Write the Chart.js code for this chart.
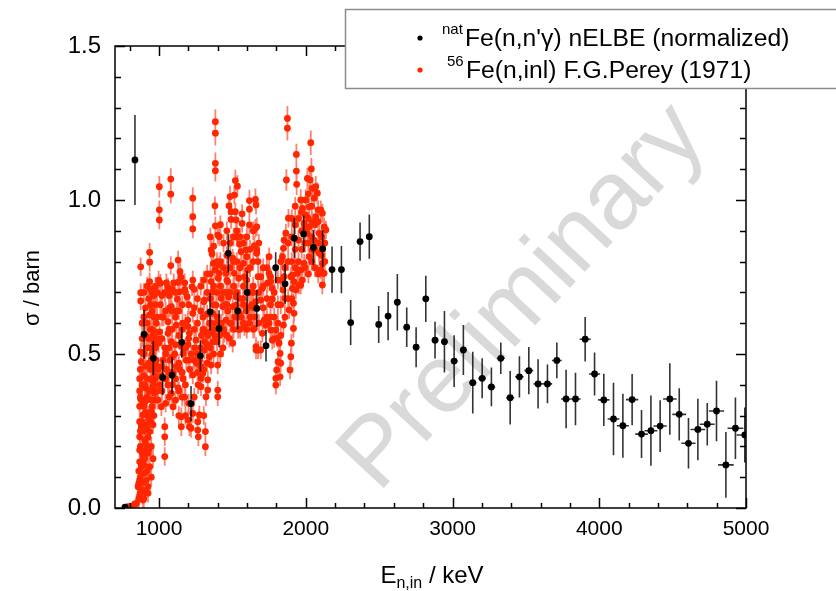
<!DOCTYPE html>
<html><head><meta charset="utf-8">
<script src="https://cdn.jsdelivr.net/npm/chart.js@4.4.1/dist/chart.umd.min.js"></script>
<style>html,body{margin:0;padding:0;background:#fff}</style>
</head><body>
<canvas id="c" width="836" height="591" style="width:836px;height:591px;display:block"></canvas>
<script>
// ---- nELBE (normalized) natFe(n,n'γ) ----
const elbeE = [768,836,898,961,1025,1089,1155,1218,1282,1348,1409,1472,1536,1600,1666,1729,1795,1859,1922,1986,2052,2115,2179,2243,2306,2370,2433,2497,2561,2624,2688,2752,2818,2881,2945,3011,3074,3138,3202,3265,3329,3393,3456,3520,3583,3647,3711,3774,3838,3904,3968,4031,4097,4161,4224,4288,4352,4415,4481,4545,4608,4672,4736,4799,4863,4928,4992];
const elbeSigma = [0.003,1.130,0.564,0.486,0.424,0.431,0.538,0.339,0.494,0.637,0.582,0.827,0.640,0.700,0.648,0.527,0.780,0.728,0.876,0.890,0.846,0.842,0.774,0.774,0.602,0.865,0.881,0.596,0.623,0.668,0.587,0.522,0.679,0.545,0.540,0.477,0.513,0.407,0.421,0.393,0.486,0.358,0.426,0.446,0.403,0.403,0.479,0.354,0.354,0.548,0.435,0.351,0.289,0.267,0.352,0.240,0.251,0.266,0.354,0.304,0.210,0.255,0.272,0.315,0.140,0.259,0.237];
const elbeErr = [0.005,0.146,0.080,0.055,0.057,0.060,0.050,0.057,0.050,0.060,0.060,0.062,0.060,0.070,0.060,0.051,0.050,0.065,0.065,0.060,0.057,0.060,0.075,0.077,0.073,0.062,0.072,0.060,0.078,0.092,0.064,0.065,0.075,0.060,0.100,0.084,0.081,0.100,0.065,0.063,0.051,0.087,0.067,0.077,0.080,0.063,0.058,0.095,0.085,0.072,0.070,0.085,0.118,0.104,0.083,0.078,0.114,0.084,0.116,0.085,0.082,0.100,0.069,0.098,0.107,0.100,0.089];
const elbeEErr = [4,5,6,6,7,7,8,8,8,9,9,10,10,11,11,12,12,13,13,14,14,15,15,16,16,17,17,18,18,19,20,20,21,22,22,23,24,25,25,26,27,28,29,30,31,32,33,34,35,38,38,39,40,41,42,43,44,45,46,47,48,50,51,52,53,54,56];

// ---- F.G. Perey (1971) 56Fe(n,inl): individually read points ----
const pereyE = [875,936,936,936,1002,1002,1002,1080,1080,1080,875,875,997,1010,1050,1061,1065,1100,1130,1130,1143,1150,1140,1175,1175,1125,1192,1072,
1384,1384,1384,1384,1230,1230,1230,1381,1520,1534,1484,1513,1477,1616,1657,1661,1491,1520,1566,1616,1491,1566,1616,1657,1525,1384,1400,1411,1355,1361,1532,1548,1559,1593,1598,1575,1650,1666,1502,1411,1411,1370,1381,1404,1457,1468,1513,1543,1582,1604,1309,1230,1225,1355,1366,1423,1475,1525,1502,
1875,1875,2034,1936,1936,2038,1868,1938,2011,2029,2045,2068,2079,1966,2000,2057,1977,2023,2084,2102,2000,2068,2045,2113,2125,2137,1882,1864,1852,1848,1841,1909,1943,1966,1977,1920,1932,1989,2023,2045,2091,2125,2113,2102,2091,2057,2011,1989,2023,1666,1666,1675,1693,1675,1750,1750,1739,1761,1772,1772,1704,1693,1852,1845,1898,1909,1954,1966,2113,2118,
1659,1716,1727,1750,1761,1704,1693,1675,1772,1796,1807,1818,1825,1811,1802,1796,1796,1825,1829,1848,1886,1898,1893,1916,1902,1916,1920,
936,879,875,875,1004,997,1084,1061,1061,1118,1152,1164,1198,948,959,970,948,993,1016,1084,1095,1039,1039,1039,1152,1152,1198,948,891,879,868,902,936,868,891,925,879,902,868,891,925,936,925,868,857,891,845,811,788,834,
1207,1218,1264,1264,1268,1316,1316,1275,1230,1320,1332,1286,1332,1298,1230,1400,1400,1400,1355,1343,1309,1252,1207,1196,1230,1298,1355,1366,1434,1479,1502,1582,1650,1661,1661,1525,1548,1457,1389,1445,1286];
const pereySigma = [0.783,0.830,0.798,0.735,1.043,0.968,0.935,1.068,1.019,0.787,0.699,0.672,0.740,0.730,0.731,0.717,0.708,0.731,0.805,0.733,0.767,0.749,0.702,0.731,0.710,0.678,0.686,0.650,
1.254,1.217,1.119,1.095,1.006,0.946,0.906,0.981,1.063,1.045,1.011,1.016,0.981,0.998,1.002,0.984,0.962,0.962,0.955,0.970,0.937,0.924,0.919,0.908,0.935,0.916,0.886,0.881,0.838,0.825,0.879,0.857,0.832,0.838,0.816,0.794,0.852,0.838,0.811,0.789,0.762,0.794,0.773,0.746,0.762,0.735,0.762,0.746,0.751,0.773,0.675,0.740,0.718,0.735,0.702,0.681,0.686,0.686,0.654,
1.265,1.233,1.186,1.148,1.094,1.101,1.065,1.051,1.070,1.065,1.038,1.043,1.022,1.000,1.000,1.006,0.973,0.978,0.968,0.968,0.951,0.946,0.930,0.957,0.913,0.903,0.941,0.892,0.870,0.843,0.816,0.756,0.762,0.773,0.740,0.735,0.708,0.794,0.816,0.838,0.827,0.762,0.724,0.773,0.892,0.870,0.892,0.924,0.913,0.913,0.827,0.800,0.751,0.751,0.816,0.762,0.730,0.735,0.713,0.678,0.713,0.675,0.751,0.708,0.751,0.713,0.724,0.724,0.794,0.762,
0.670,0.610,0.594,0.600,0.578,0.567,0.513,0.513,0.545,0.578,0.551,0.535,0.502,0.475,0.448,0.421,0.399,0.426,0.470,0.594,0.643,0.491,0.448,0.583,0.535,0.665,0.632,
0.627,0.475,0.507,0.353,0.572,0.535,0.654,0.605,0.567,0.594,0.524,0.502,0.589,0.416,0.394,0.372,0.351,0.351,0.329,0.372,0.329,0.264,0.231,0.167,0.296,0.264,0.286,0.313,0.302,0.264,0.231,0.221,0.248,0.188,0.167,0.178,0.134,0.113,0.091,0.058,0.069,0.134,0.048,0.042,0.069,0.026,0.015,0.006,0.004,0.013,
0.264,0.259,0.280,0.253,0.231,0.248,0.199,0.302,0.307,0.361,0.383,0.394,0.416,0.437,0.432,0.383,0.361,0.464,0.464,0.491,0.513,0.545,0.567,0.610,0.632,0.578,0.600,0.632,0.654,0.551,0.535,0.589,0.583,0.524,0.513,0.659,0.632,0.610,0.659,0.567,0.421];
const pereyErr = [0.030,0.030,0.030,0.030,0.035,0.030,0.030,0.035,0.030,0.030,0.030,0.030,0.030,0.030,0.030,0.030,0.030,0.030,0.030,0.030,0.030,0.030,0.030,0.030,0.030,0.030,0.030,0.030,
0.040,0.040,0.035,0.035,0.035,0.030,0.030,0.030,0.035,0.035,0.035,0.030,0.030,0.035,0.035,0.030,0.030,0.030,0.030,0.030,0.030,0.030,0.030,0.030,0.030,0.030,0.030,0.030,0.030,0.030,0.030,0.030,0.030,0.030,0.030,0.030,0.030,0.030,0.030,0.030,0.030,0.030,0.030,0.030,0.030,0.030,0.030,0.030,0.030,0.030,0.030,0.030,0.030,0.030,0.030,0.030,0.030,0.030,0.030,
0.040,0.040,0.040,0.035,0.035,0.035,0.035,0.035,0.035,0.035,0.035,0.035,0.035,0.035,0.035,0.035,0.030,0.030,0.030,0.030,0.030,0.030,0.030,0.030,0.030,0.030,0.030,0.030,0.030,0.030,0.030,0.030,0.030,0.030,0.030,0.030,0.030,0.030,0.030,0.030,0.030,0.030,0.030,0.030,0.030,0.030,0.030,0.030,0.030,0.030,0.030,0.030,0.030,0.030,0.030,0.030,0.030,0.030,0.030,0.030,0.030,0.030,0.030,0.030,0.030,0.030,0.030,0.030,0.030,0.030,
0.030,0.030,0.030,0.030,0.030,0.030,0.030,0.030,0.030,0.030,0.030,0.030,0.030,0.030,0.030,0.030,0.030,0.030,0.030,0.030,0.030,0.030,0.030,0.030,0.030,0.030,0.030,
0.030,0.030,0.030,0.030,0.030,0.030,0.030,0.030,0.030,0.030,0.030,0.030,0.030,0.030,0.030,0.030,0.030,0.030,0.030,0.030,0.030,0.030,0.030,0.030,0.030,0.030,0.030,0.030,0.030,0.030,0.030,0.030,0.030,0.030,0.030,0.030,0.030,0.030,0.030,0.030,0.030,0.030,0.030,0.030,0.030,0.030,0.015,0.010,0.010,0.010,
0.030,0.030,0.030,0.030,0.030,0.030,0.030,0.030,0.030,0.030,0.030,0.030,0.030,0.030,0.030,0.030,0.030,0.030,0.030,0.030,0.030,0.030,0.030,0.030,0.030,0.030,0.030,0.030,0.030,0.030,0.030,0.030,0.030,0.030,0.030,0.030,0.030,0.030,0.030,0.030,0.030];

// ---- F.G. Perey (1971): points estimated inside the dense part of the cloud (typical error ±0.03 b) ----
const pereyDenseE = [
862,862,862,868,868,868,868,868,873,873,873,873,873,873,885,885,885,885,885,885,885,
896,896,896,896,896,896,896,896,908,908,908,908,908,908,908,919,919,919,919,919,919,919,
930,930,930,930,930,930,942,942,942,942,942,942,942,953,953,953,953,953,953,965,965,965,965,965,965,
976,976,976,976,976,976,988,988,988,988,988,
902,913,925,913,902,947,959,959,947,913,913,902,925,936,959,970,981,993,1004,1016,1027,1039,1050,1061,1073,1084,1095,1107,1118,1130,1141,1164,1175,1186,1198,1209,1220,1243,1255,1266,1277,1289,1300,1311,1323,1334,1345,1368,1380,1391,1413,1425,1436,1448,1459,1470,1493,1516,1539,1561,1573,1595,1607,1618,1630,1641,1652,1009,1030,1120,1160,1040,970,959,981,947,
1020,1020,1020,1020,1020,1045,1045,1045,1045,1068,1068,1068,1068,1068,1090,1090,1090,1090,1090,1112,1112,1112,1112,1112,1135,1135,1135,1135,1135,1158,1158,1158,1158,1180,1180,1180,1180,1180,1202,1202,1202,1202,
1240,1240,1240,1240,1240,1262,1262,1262,1262,1284,1284,1284,1284,1305,1305,1305,1305,1305,1328,1328,1328,1328,1328,
1350,1350,1350,1350,1350,1372,1372,1372,1372,1372,1395,1395,1395,1395,1418,1418,1418,1418,1418,1440,1440,1440,1440,1462,1462,1462,1462,1462,1485,1485,1485,1485,1508,1508,1508,1508,1530,1530,1530,1530,1552,1552,1552,1552,1575,1575,1575,1575,1598,1598,1598,1598,1620,1620,1620,1620,1642,1642,1642,1642,1642,1680,1680,1680,
1710,1710,1710,1735,1735,1735,1760,1760,1760,1785,1785,1785,1810,1810,1810,1830,1830,1830,1830,1858,1858,1858,
1880,1880,1880,1905,1905,1905,1905,1928,1928,1928,1928,1950,1950,1950,1972,1972,1972,1995,1995,1995,2018,2018,2018,2018,2040,2040,2040,2062,2062,2062,2085,2085,2085,2108,2108,2130,2130];
const pereyDenseSigma = [
0.03,0.08,0.12,0.15,0.28,0.33,0.38,0.42,0.05,0.10,0.20,0.25,0.36,0.45,0.08,0.18,0.28,0.35,0.40,0.55,0.60,
0.03,0.14,0.25,0.33,0.43,0.50,0.62,0.70,0.05,0.21,0.31,0.39,0.46,0.56,0.65,0.12,0.26,0.36,0.42,0.52,0.60,0.72,
0.19,0.29,0.38,0.47,0.55,0.68,0.28,0.38,0.45,0.52,0.58,0.66,0.71,0.33,0.42,0.50,0.58,0.64,0.70,0.30,0.40,0.47,0.54,0.62,0.69,
0.35,0.42,0.52,0.57,0.66,0.72,0.38,0.46,0.55,0.62,0.70,
0.400,0.350,0.300,0.270,0.345,0.200,0.270,0.160,0.100,0.190,0.090,0.160,0.230,0.300,0.450,0.430,0.480,0.450,0.400,0.430,0.480,0.520,0.450,0.400,0.480,0.540,0.440,0.500,0.460,0.390,0.450,0.420,0.360,0.480,0.530,0.450,0.500,0.520,0.470,0.400,0.480,0.560,0.620,0.540,0.570,0.560,0.600,0.540,0.560,0.600,0.560,0.600,0.520,0.660,0.700,0.640,0.600,0.620,0.580,0.620,0.680,0.640,0.700,0.600,0.660,0.700,0.620,0.660,0.620,0.640,0.600,0.700,0.520,0.560,0.600,0.480,
0.38,0.46,0.55,0.62,0.69,0.34,0.42,0.50,0.64,0.36,0.44,0.52,0.58,0.69,0.40,0.49,0.58,0.64,0.71,0.35,0.42,0.53,0.62,0.70,0.30,0.38,0.47,0.56,0.64,0.36,0.44,0.58,0.66,0.30,0.40,0.52,0.60,0.70,0.34,0.48,0.55,0.66,
0.36,0.48,0.58,0.65,0.71,0.44,0.50,0.60,0.68,0.46,0.52,0.64,0.72,0.30,0.45,0.58,0.67,0.74,0.47,0.53,0.63,0.70,0.76,
0.52,0.57,0.68,0.76,0.88,0.50,0.58,0.66,0.72,0.85,0.54,0.62,0.70,0.80,0.50,0.60,0.72,0.80,0.92,0.58,0.70,0.78,0.86,0.56,0.66,0.74,0.82,0.90,0.60,0.70,0.78,0.86,0.58,0.72,0.80,0.88,0.62,0.70,0.80,0.90,0.58,0.68,0.78,0.88,0.60,0.66,0.72,0.86,0.58,0.65,0.74,0.88,0.62,0.70,0.78,0.84,0.58,0.65,0.72,0.80,0.90,0.60,0.70,0.86,
0.65,0.72,0.78,0.62,0.68,0.78,0.62,0.66,0.75,0.55,0.62,0.70,0.60,0.66,0.74,0.56,0.66,0.74,0.80,0.62,0.68,0.78,
0.68,0.80,0.86,0.68,0.80,0.88,0.94,0.78,0.84,0.92,0.98,0.80,0.87,0.94,0.84,0.90,0.96,0.78,0.86,0.91,0.76,0.86,0.94,1.02,0.80,0.88,0.98,0.78,0.84,0.92,0.76,0.86,0.93,0.82,0.88,0.80,0.86];
const pereyDenseErr = 0.03;

// ---- axes ----
const xMajorTicks = [1000,2000,3000,4000,5000];
const xMinorTicks = [800,1200,1400,1600,1800,2200,2400,2600,2800,3200,3400,3600,3800,4200,4400,4600,4800];
const yMajorTicks = [0,0.5,1.0,1.5];
const yMinorTicks = [0.1,0.2,0.3,0.4,0.6,0.7,0.8,0.9,1.1,1.2,1.3,1.4];

const FONT = '"Liberation Sans", Arial, sans-serif';
const BLACK_PT = '#000000';
const RED_PT = '#ff2600';

const redE = pereyE.concat(pereyDenseE);
const redS = pereySigma.concat(pereyDenseSigma);
const redD = pereyErr.concat(pereyDenseE.map(() => pereyDenseErr));

const errorBars = {
  id: 'errorBars',
  beforeDatasetDraw(chart, args) {
    const {ctx, scales: {x, y}, chartArea: a} = chart;
    const i = args.index;
    const E = i === 0 ? elbeE : redE;
    const S = i === 0 ? elbeSigma : redS;
    const D = i === 0 ? elbeErr : redD;
    ctx.save();
    ctx.beginPath(); ctx.rect(a.left, a.top, a.right - a.left, a.bottom - a.top); ctx.clip();
    ctx.strokeStyle = i === 0 ? 'rgba(0,0,0,0.8)' : 'rgba(255,50,20,0.62)';
    ctx.lineWidth = i === 0 ? 1.6 : 1.8;
    ctx.beginPath();
    for (let k = 0; k < E.length; k++) {
      const px = x.getPixelForValue(E[k]);
      ctx.moveTo(px, y.getPixelForValue(S[k] - D[k]));
      ctx.lineTo(px, y.getPixelForValue(S[k] + D[k]));
      if (i === 0) {
        const py = y.getPixelForValue(S[k]);
        ctx.moveTo(x.getPixelForValue(E[k] - elbeEErr[k]), py);
        ctx.lineTo(x.getPixelForValue(E[k] + elbeEErr[k]), py);
      }
    }
    ctx.stroke();
    ctx.restore();
  }
};

const decor = {
  id: 'decor',
  beforeDatasetsDraw(chart) {
    const {ctx, chartArea: a} = chart;
    ctx.save();
    ctx.beginPath(); ctx.rect(a.left, a.top, a.right - a.left, a.bottom - a.top); ctx.clip();
    ctx.translate(524, 298);
    ctx.rotate(-47 * Math.PI / 180);
    ctx.font = '97px ' + FONT;
    ctx.fillStyle = '#d9d9d9';
    ctx.textAlign = 'center';
    ctx.textBaseline = 'middle';
    ctx.fillText('Preliminary', 0, 0);
    ctx.restore();
  },
  afterDraw(chart) {
    const {ctx, chartArea: a, scales: {x, y}} = chart;
    ctx.save();
    ctx.strokeStyle = '#000'; ctx.lineWidth = 1.5;
    ctx.strokeRect(a.left, a.top, a.right - a.left, a.bottom - a.top);
    ctx.beginPath();
    const tick = (vals, len) => {
      vals.forEach(v => {
        const px = Math.round(x.getPixelForValue(v)) + 0.5;
        ctx.moveTo(px, a.bottom); ctx.lineTo(px, a.bottom - len);
        ctx.moveTo(px, a.top); ctx.lineTo(px, a.top + len);
      });
    };
    tick(xMajorTicks, 10); tick(xMinorTicks, 5);
    const ytick = (vals, len) => {
      vals.forEach(v => {
        const py = Math.round(y.getPixelForValue(v)) + 0.5;
        ctx.moveTo(a.left, py); ctx.lineTo(a.left + len, py);
        ctx.moveTo(a.right, py); ctx.lineTo(a.right - len, py);
      });
    };
    ytick(yMajorTicks, 10); ytick(yMinorTicks, 6);
    ctx.stroke();

    ctx.fillStyle = '#000';
    ctx.textBaseline = 'alphabetic';
    ctx.save();
    ctx.translate(39, 288);
    ctx.rotate(-Math.PI / 2);
    ctx.font = '22px ' + FONT;
    ctx.textAlign = 'center';
    ctx.fillText('σ / barn', 0, 0);
    ctx.restore();

    ctx.textAlign = 'left';
    const big = '24px ' + FONT, small = '16px ' + FONT;
    ctx.font = big; const wE = ctx.measureText('E').width; const wR = ctx.measureText(' / keV').width;
    ctx.font = small; const wS = ctx.measureText('n,in').width;
    let sx = 432 - (wE + wS + wR) / 2;
    const by = 583;
    ctx.font = big; ctx.fillText('E', sx, by); sx += wE;
    ctx.font = small; ctx.fillText('n,in', sx, by + 5); sx += wS;
    ctx.font = big; ctx.fillText(' / keV', sx, by);

    ctx.fillStyle = '#fff';
    ctx.fillRect(345, 9, 520, 79);
    ctx.strokeStyle = '#8c8c8c'; ctx.lineWidth = 1.5;
    ctx.strokeRect(345.5, 9.5, 520, 79);
    ctx.fillStyle = BLACK_PT;
    ctx.beginPath(); ctx.arc(420, 38, 2.6, 0, Math.PI * 2); ctx.fill();
    ctx.fillStyle = RED_PT;
    ctx.beginPath(); ctx.arc(420, 70, 2.6, 0, Math.PI * 2); ctx.fill();
    ctx.fillStyle = '#000';
    const lf = '24.7px ' + FONT, sf = '15px ' + FONT;
    ctx.font = sf; ctx.fillText('nat', 442, 34);
    ctx.font = lf; ctx.fillText("Fe(n,n'γ) nELBE (normalized)", 465, 46);
    ctx.font = sf; ctx.fillText('56', 447, 66);
    ctx.font = lf; ctx.fillText('Fe(n,inl) F.G.Perey (1971)', 466, 78);
    ctx.restore();
  }
};

new Chart(document.getElementById('c'), {
  type: 'scatter',
  data: {
    datasets: [
      { label: "natFe(n,n'γ) nELBE (normalized)",
        data: elbeE.map((e, k) => ({x: e, y: elbeSigma[k]})),
        pointRadius: 3.4, pointHoverRadius: 3.4, pointBackgroundColor: BLACK_PT, pointBorderWidth: 0, showLine: false },
      { label: '56Fe(n,inl) F.G.Perey (1971)',
        data: redE.map((e, k) => ({x: e, y: redS[k]})),
        pointRadius: 3.4, pointHoverRadius: 3.4, pointBackgroundColor: RED_PT, pointBorderWidth: 0, showLine: false }
    ]
  },
  options: {
    responsive: false, animation: false, devicePixelRatio: 1,
    layout: { padding: { top: 46, right: 90, left: 0, bottom: 0 } },
    plugins: { legend: { display: false }, tooltip: { enabled: false } },
    scales: {
      x: {
        type: 'linear', min: 700, max: 5000,
        afterBuildTicks: s => { s.ticks = xMajorTicks.map(v => ({value: v})); },
        afterFit: s => { s.height = 83; },
        grid: { display: false }, border: { display: false },
        ticks: { color: '#000', font: { family: FONT, size: 21 }, padding: 1, maxRotation: 0, autoSkip: false, callback: v => String(v) }
      },
      y: {
        type: 'linear', min: 0, max: 1.5,
        afterBuildTicks: s => { s.ticks = yMajorTicks.map(v => ({value: v})); },
        afterFit: s => { s.width = 115; },
        grid: { display: false }, border: { display: false },
        ticks: { color: '#000', font: { family: FONT, size: 24 }, padding: 6, callback: v => Number(v).toFixed(1) }
      }
    }
  },
  plugins: [errorBars, decor]
});
</script>
</body></html>
